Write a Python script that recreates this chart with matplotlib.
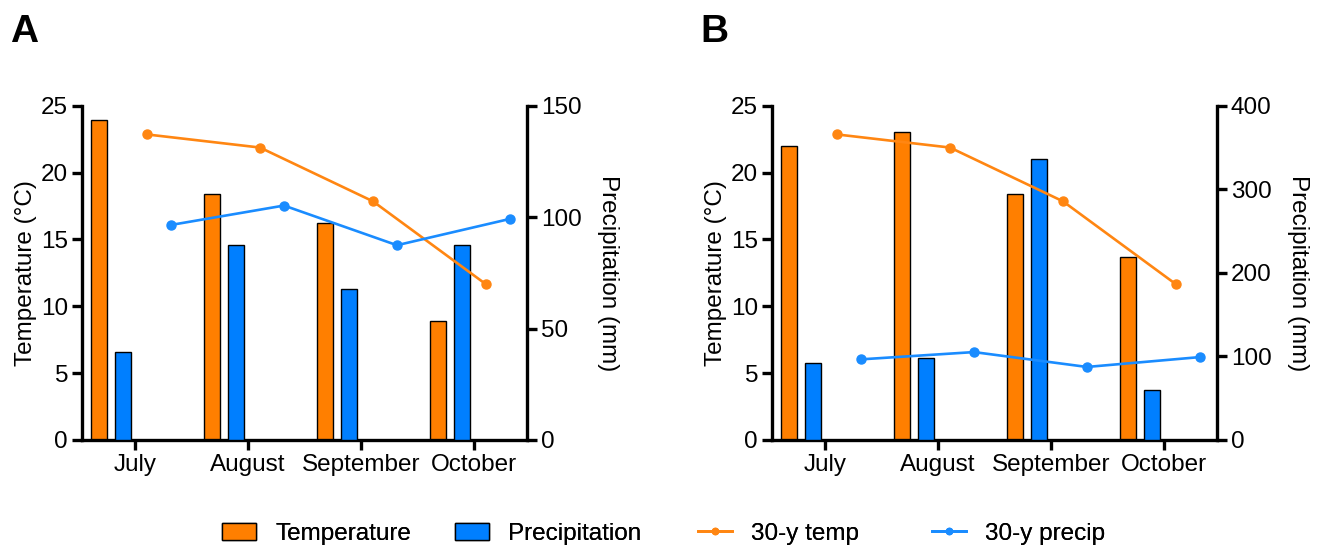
#!/usr/bin/env python3
"""
Monthly temperature / precipitation vs 30-year normals, two sites (A, B).
"""

import matplotlib
matplotlib.use("Agg")
import matplotlib.pyplot as plt
import numpy as np
from matplotlib.lines import Line2D
from matplotlib.patches import Patch

plt.rcParams["font.family"] = ["Liberation Sans", "DejaVu Sans"]

MONTHS = ["July", "August", "September", "October"]

# panel A
TEMP_A = [23.9, 18.4, 16.2, 8.9]
PRECIP_A = [39.4, 87.4, 67.6, 87.6]
# panel B
TEMP_B = [22.0, 23.0, 18.4, 13.7]
PRECIP_B = [92.0, 98.7, 336.0, 60.1]
# 30-year normals (same for both panels)
NORM_TEMP = [22.85, 21.87, 17.85, 11.65]
NORM_PRECIP = [96.5, 105.2, 87.4, 99.2]

PRECIP_LIM_A = 150
PRECIP_TICKS_A = [0, 50, 100, 150]
PRECIP_LIM_B = 400
PRECIP_TICKS_B = [0, 100, 200, 300, 400]

LEGEND_LABELS = ["Temperature", "Precipitation", "30-y temp", "30-y precip"]

BAR_ORANGE = "#FF7F00"
BAR_BLUE = "#007FFF"
LINE_ORANGE = "#FF8612"
LINE_BLUE = "#1A8CFF"

FS = 17.5
SPINE_W = 2.4
SLOT = 0.2124
BAR_W = 0.145


def style_axis(ax):
    for side in ("left", "right", "bottom"):
        ax.spines[side].set_linewidth(SPINE_W)
    ax.spines["top"].set_visible(False)
    ax.tick_params(width=SPINE_W, length=7, labelsize=FS, pad=3)


def draw_panel(fig, rect, temp, precip, p_lim, p_ticks, letter):
    x = np.arange(len(MONTHS))
    ax = fig.add_axes(rect)
    ax2 = ax.twinx()

    ax.bar(x - 1.5 * SLOT, temp, width=BAR_W, color=BAR_ORANGE,
           edgecolor="black", linewidth=1.0, zorder=2)
    ax2.bar(x - 0.5 * SLOT, precip, width=BAR_W, color=BAR_BLUE,
            edgecolor="black", linewidth=1.0, zorder=2)
    # temperature normals drawn on the twin axis, rescaled to the left axis
    ax2.plot(x + 0.5 * SLOT, np.array(NORM_TEMP) * p_lim / 25.0,
             color=LINE_ORANGE, linewidth=1.9, marker="o", markersize=6.5, zorder=3)
    ax2.plot(x + 1.5 * SLOT, NORM_PRECIP, color=LINE_BLUE, linewidth=1.9,
             marker="o", markersize=6.5, zorder=3)

    ax.set_xlim(-0.47, 3.47)
    ax.set_ylim(0, 25)
    ax.set_yticks([0, 5, 10, 15, 20, 25])
    ax2.set_ylim(0, p_lim)
    ax2.set_yticks(p_ticks)
    ax.set_xticks(x)
    ax.set_xticklabels(MONTHS)

    ax.set_ylabel("Temperature (\u00b0C)", fontsize=FS, labelpad=3)
    ax2.set_ylabel("Precipitation (mm)", fontsize=FS, rotation=270,
                   va="bottom", labelpad=11)

    style_axis(ax)
    style_axis(ax2)
    ax.spines["right"].set_visible(False)
    ax2.spines["left"].set_visible(False)
    ax2.spines["bottom"].set_visible(False)

    fig.text(rect[0] - 0.054, 0.975, letter, fontsize=28, fontweight="bold",
             va="top", ha="left")
    return ax


def main():
    fig = plt.figure(figsize=(13.25, 5.46), dpi=100)
    bottom = 106 / 546
    height = 334.3 / 546
    width = 445 / 1325
    draw_panel(fig, [82 / 1325, bottom, width, height], TEMP_A, PRECIP_A,
               PRECIP_LIM_A, PRECIP_TICKS_A, "A")
    draw_panel(fig, [772 / 1325, bottom, width, height], TEMP_B, PRECIP_B,
               PRECIP_LIM_B, PRECIP_TICKS_B, "B")

    handles = [
        Patch(facecolor=BAR_ORANGE, edgecolor="black", linewidth=1.0),
        Patch(facecolor=BAR_BLUE, edgecolor="black", linewidth=1.0),
        Line2D([], [], color=LINE_ORANGE, linewidth=2.0, marker="o", markersize=4.5),
        Line2D([], [], color=LINE_BLUE, linewidth=2.0, marker="o", markersize=4.5),
    ]
    # entries sit on a fixed pitch, like the original figure
    starts = [222, 455, 698, 932]
    for h, lab, x0 in zip(handles, LEGEND_LABELS, starts):
        leg = fig.legend([h], [lab], loc="center left",
                         bbox_to_anchor=(x0 / 1325, 0.022), frameon=False,
                         fontsize=FS, handlelength=1.4, handletextpad=0.8,
                         borderpad=0.0, borderaxespad=0.0)
        fig.add_artist(leg)

    fig.savefig("out.png", dpi=100)
    plt.close(fig)


if __name__ == "__main__":
    main()
